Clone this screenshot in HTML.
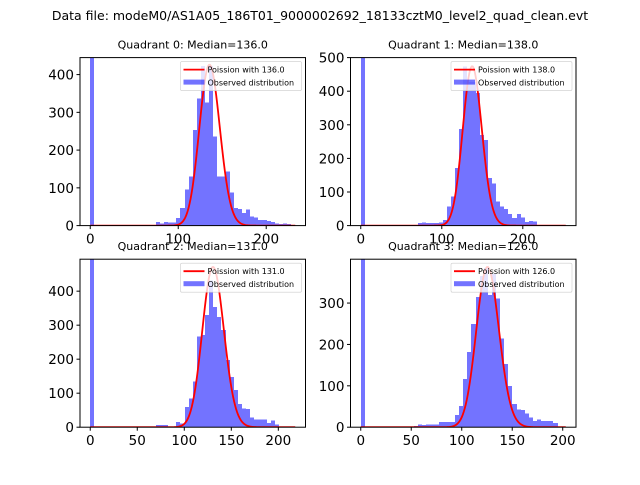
<!DOCTYPE html>
<html><head><meta charset="utf-8"><style>
body{margin:0;background:#fff;}
svg text{font-family:"DejaVu Sans","Liberation Sans",sans-serif;}
</style></head><body>
<svg id="fig" width="640" height="480" viewBox="0 0 640 480" xmlns="http://www.w3.org/2000/svg">
<rect width="640" height="480" fill="#fff"/>
<text x="320" y="20" font-size="12.5" text-anchor="middle">Data file: modeM0/AS1A05_186T01_9000002692_18133cztM0_level2_quad_clean.evt</text>
</svg>
<script>
const quadNames = ["Quadrant 0","Quadrant 1","Quadrant 2","Quadrant 3"];
const medians = [136.0, 138.0, 131.0, 126.0];
const maxValues = [233, 253, 218, 203];
const yMaxValues = [445, 500, 494, 406];
const yTicks0 = [0,100,200,300,400];
const yTicks1 = [0,100,200,300,400,500];
const yTicks2 = [0,100,200,300,400];
const yTicks3 = [0,100,200,300];
const xTicks0 = [0,100,200];
const xTicks1 = [0,100,200];
const xTicks2 = [0,50,100,150,200];
const xTicks3 = [0,50,100,150,200];
const curvePeaks = [426, 474, 471, 387];
const counts0 = [1000,0,0,0,0,0,0,0,0,0,0,0,0,0,0,0,10,6,10,8,8,20,46,95,130,253,337,423,326,423,236,130,130,143,88,46,44,33,43,24,21,15,15,12,10,6,4,6,4,2];
const counts1 = [1000,0,0,0,0,0,0,0,0,0,0,0,0,0,7,9,7,7,7,9,17,57,86,171,288,473,427,427,394,270,255,141,126,71,57,49,34,22,34,24,10,14,12,2,1,1,0,1,0,0,1];
const counts2 = [1000,0,0,0,0,0,0,0,0,0,0,0,0,0,0,0,6,6,6,0,0,16,11,60,84,135,266,271,330,432,354,324,286,197,148,109,68,55,53,28,23,23,23,13,19,8,1,1,0,1];
const counts3 = [1000,0,0,0,0,0,0,0,0,0,0,0,0,3,7,5,7,7,7,13,13,13,13,29,51,116,182,250,315,365,385,319,370,311,214,153,99,56,43,41,33,23,15,19,15,15,15,10,0,1];
const allCounts = [counts0, counts1.slice(0,50), counts2, counts3];
const allYTicks = [yTicks0,yTicks1,yTicks2,yTicks3];
const allXTicks = [xTicks0,xTicks1,xTicks2,xTicks3];

const NS = "http://www.w3.org/2000/svg";
const svg = document.getElementById('fig');
function mk(tag, attrs, parent){
  const e = document.createElementNS(NS, tag);
  for (const k in attrs) e.setAttribute(k, attrs[k]);
  (parent||svg).appendChild(e);
  return e;
}
const boxes = [[80,57.6],[350.5,57.6],[80,259.2],[350.5,259.2]];
const W = 225.5, H = 168;
function logPois(k, lam){ let lf=0; for(let i=2;i<=k;i++) lf+=Math.log(i); return k*Math.log(lam)-lam-lf; }

for (let q=0;q<4;q++){
  const [x0,y0] = boxes[q];
  const M = maxValues[q], ymax = yMaxValues[q];
  const xmin = -0.05*M, xmax = 1.05*M;
  const sx = v => x0 + (v - xmin)/(xmax - xmin)*W;
  const sy = v => y0 + H - Math.min(v, ymax*1.2)/ymax*H;
  const g = mk('g', {});
  
  
  const clipId = 'clip'+q;
  const cp = mk('clipPath',{id:clipId},g);
  mk('rect',{x:x0,y:y0,width:W,height:H},cp);
  const plot = mk('g',{'clip-path':'url(#'+clipId+')'},g);
  const counts = allCounts[q];
  const bw = M/counts.length;
  counts.forEach((c,i)=>{
    if (c<=0) return;
    const xa = Math.round(sx(i*bw)), xb = Math.round(sx((i+1)*bw));
    const r = mk('rect',{x:xa,y:sy(c),width:xb-xa,height:y0+H-sy(c),fill:'#0000ff','fill-opacity':0.55,'shape-rendering':'crispEdges'},plot);
    
    
  });
  const lam = medians[q];
  const peakLog = logPois(Math.floor(lam), lam);
  let d = '';
  for (let k=0;k<=Math.round(M);k++){
    const v = curvePeaks[q]*Math.exp(logPois(k,lam)-peakLog);
    d += (k?'L':'M')+sx(k).toFixed(2)+','+sy(v).toFixed(2);
  }
  const pth = mk('path',{d:d,fill:'none',stroke:'#ff0000','stroke-width':1.8},plot);
  
  
  mk('rect',{x:x0,y:y0,width:W,height:H,fill:'none',stroke:'#000','stroke-width':1},g);
  allXTicks[q].forEach(t=>{
    mk('line',{x1:sx(t),x2:sx(t),y1:y0+H,y2:y0+H+3.5,stroke:'#000','stroke-width':1},g);
    const tx = mk('text',{x:sx(t),y:y0+H+18,'font-size':13.5,'text-anchor':'middle'},g);
    tx.textContent = t;
    
    
  });
  allYTicks[q].forEach(t=>{
    mk('line',{x1:x0,x2:x0-3.5,y1:sy(t),y2:sy(t),stroke:'#000','stroke-width':1},g);
    const tx = mk('text',{x:x0-6,y:sy(t)+5,'font-size':13.5,'text-anchor':'end'},g);
    tx.textContent = t;
    
    
  });
  const ti = mk('text',{x:x0+W/2,y:y0-9,'font-size':11,'text-anchor':'middle'},g);
  ti.textContent = quadNames[q]+': Median='+medians[q].toFixed(1);
  
  
  const lg = mk('g',{},g);
  
  
  const lx = x0+W-125, ly = y0+4;
  mk('rect',{x:lx,y:ly,width:121,height:29,fill:'#fff','fill-opacity':0.8,stroke:'#ccc','stroke-width':0.6,rx:1.5},lg);
  mk('line',{x1:lx+3,x2:lx+24,y1:ly+8,y2:ly+8,stroke:'#ff0000','stroke-width':1.8},lg);
  mk('rect',{x:lx+3,y:ly+18,width:21,height:5,fill:'#0000ff','fill-opacity':0.55},lg);
  const t1 = mk('text',{x:lx+27,y:ly+11,'font-size':8},lg);
  t1.textContent = 'Poission with '+medians[q].toFixed(1);
  const t2 = mk('text',{x:lx+27,y:ly+24,'font-size':8},lg);
  t2.textContent = 'Observed distribution';
}
</script>
</body></html>
